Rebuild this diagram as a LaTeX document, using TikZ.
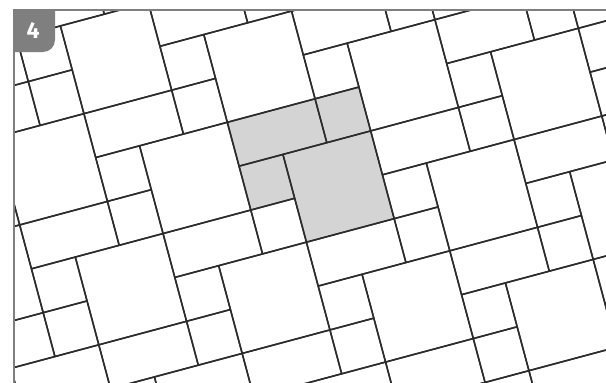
\documentclass[tikz,border=0pt]{standalone}
\usepackage{fontspec}
\newfontfamily\badgefont{Fira Sans}
\definecolor{tileline}{HTML}{2B2B2B}
\definecolor{tilefill}{HTML}{D4D4D4}
\definecolor{framegray}{HTML}{7F7F7F}

\begin{document}
\begin{tikzpicture}[line join=round,
  tile/.style={draw=tileline, line width=1.5pt},
  frameline/.style={draw=framegray, line width=1.6pt}]
  \useasboundingbox (0,0) rectangle (606pt,-383pt);
  % 铺砖区域（裁剪到边框内）
  \begin{scope}
    \clip (14pt,-10pt) rectangle (606pt,-383pt);
    % 旋转 15 度的网格, 单位 45.42pt
    \begin{scope}[shift={(227.3pt,-122.3pt)}, x={(43.875pt,11.75pt)}, y={(11.75pt,-43.875pt)}]
      % 基本区域（灰色）
      \fill[tilefill] (0,0) -- (3,0) -- (3,3) -- (1,3) -- (1,2) -- (0,2) -- cycle;
      % 平移向量 m(3,1)+n(1,3)
      \foreach \m in {-5,...,5}
        \foreach \n in {-5,...,5} {
          \pgfmathsetmacro{\tu}{3*\m+\n}
          \pgfmathsetmacro{\tv}{\m+3*\n}
          \begin{scope}[shift={(\tu,\tv)}]
            \draw[tile] (0,0) -- (2,0) -- (2,1) -- (0,1) -- cycle; % 长方形
            \draw[tile] (2,0) -- (3,0) -- (3,1) -- (2,1) -- cycle; % 小正方形
            \draw[tile] (0,1) -- (1,1) -- (1,2) -- (0,2) -- cycle; % 小正方形
            \draw[tile] (1,1) -- (3,1) -- (3,3) -- (1,3) -- cycle; % 大正方形
          \end{scope}
        }
    \end{scope}
  \end{scope}
  % 边框
  \coordinate (corner) at (14pt,-10pt);
  \draw[frameline] (14pt,-383pt) -- (corner) -- (606pt,-10pt);
  % 编号标签
  \fill[framegray] (13pt,-9pt) -- (55pt,-9pt) -- (55pt,-40pt)
    arc[start angle=0, end angle=-90, radius=12pt] -- (13pt,-52pt) -- cycle;
  \node[text=white, font=\badgefont\bfseries\fontsize{23}{23}\selectfont] (badge) at (33pt,-30.5pt) {4};
\end{tikzpicture}
\end{document}
